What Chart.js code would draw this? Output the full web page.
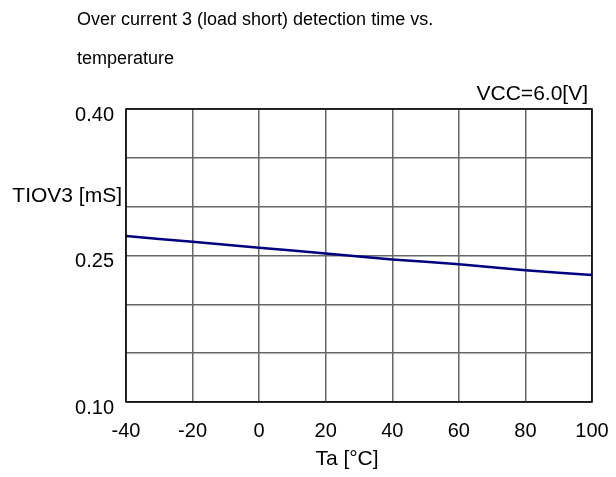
<!DOCTYPE html>
<html>
<head>
<meta charset="utf-8">
<script src="https://cdn.jsdelivr.net/npm/chart.js@4.4.1/dist/chart.umd.min.js"></script>
<style>
html,body{margin:0;padding:0;background:#fff;}
#wrap{width:616px;height:477px;position:relative;}
</style>
</head>
<body>
<div id="wrap"><canvas id="c" width="616" height="477"></canvas></div>
<script>
const temperatures = [-40, -20, 0, 20, 40, 60, 80, 100];
const tiov3 = [0.270, 0.264, 0.258, 0.252, 0.246, 0.241, 0.235, 0.230];
const yLabeled = [0.10, 0.25, 0.40];
const titleLines = ['Over current 3 (load short) detection time vs.', 'temperature'];
const conditionText = 'VCC=6.0[V]';
const yAxisTitle = 'TIOV3 [mS]';
const xAxisTitle = 'Ta [°C]';

const FONT = '"Liberation Sans", Arial, sans-serif';

const textPlugin = {
  id: 'texts',
  afterDraw(chart) {
    const ctx = chart.ctx;
    const a = chart.chartArea;
    ctx.save();
    ctx.strokeStyle = '#000';
    ctx.lineWidth = 1.5;
    ctx.strokeRect(a.left, a.top, a.right - a.left, a.bottom - a.top);
    ctx.fillStyle = '#000';
    ctx.textBaseline = 'alphabetic';
    ctx.font = '18px ' + FONT;
    ctx.textAlign = 'left';
    ctx.fillText(titleLines[0], 77, 25);
    ctx.fillText(titleLines[1], 77, 64);
    ctx.font = '21px ' + FONT;
    ctx.textAlign = 'right';
    ctx.fillText(conditionText, 588, 100);
    ctx.fillText(yAxisTitle, 122, 202);
    ctx.textAlign = 'center';
    ctx.fillText(xAxisTitle, 347, 465);
    ctx.restore();
  }
};

new Chart(document.getElementById('c'), {
  type: 'line',
  data: {
    datasets: [{
      data: temperatures.map((t, i) => ({x: t, y: tiov3[i]})),
      borderColor: '#000080',
      borderWidth: 2.5,
      pointRadius: 0,
      tension: 0.3,
      fill: false
    }]
  },
  options: {
    responsive: false,
    animation: false,
    events: [],
    layout: {padding: {top: 109, right: 24, left: 0, bottom: 0}},
    plugins: {legend: {display: false}, tooltip: {enabled: false}, title: {display: false}},
    scales: {
      x: {
        type: 'linear',
        min: -40, max: 100,
        grid: {color: '#666', lineWidth: 1.5, drawTicks: false},
        border: {display: false},
        ticks: {stepSize: 20, color: '#000', font: {family: FONT, size: 20}, padding: 17, maxRotation: 0,
          callback: v => String(v)},
        afterFit: s => { s.height = 75; s.paddingLeft = 0; s.paddingRight = 0; }
      },
      y: {
        type: 'linear',
        min: 0.10, max: 0.40,
        grid: {color: '#666', lineWidth: 1.5, drawTicks: false},
        border: {display: false},
        ticks: {stepSize: 0.05, color: '#000', font: {family: FONT, size: 20}, padding: 12, labelOffset: 6,
          callback: v => {
            const hit = yLabeled.find(l => Math.abs(l - v) < 1e-6);
            return hit !== undefined ? hit.toFixed(2) : '';
          }},
        afterFit: s => { s.width = 126; s.paddingTop = 0; s.paddingBottom = 0; }
      }
    }
  },
  plugins: [textPlugin]
});
</script>
</body>
</html>
